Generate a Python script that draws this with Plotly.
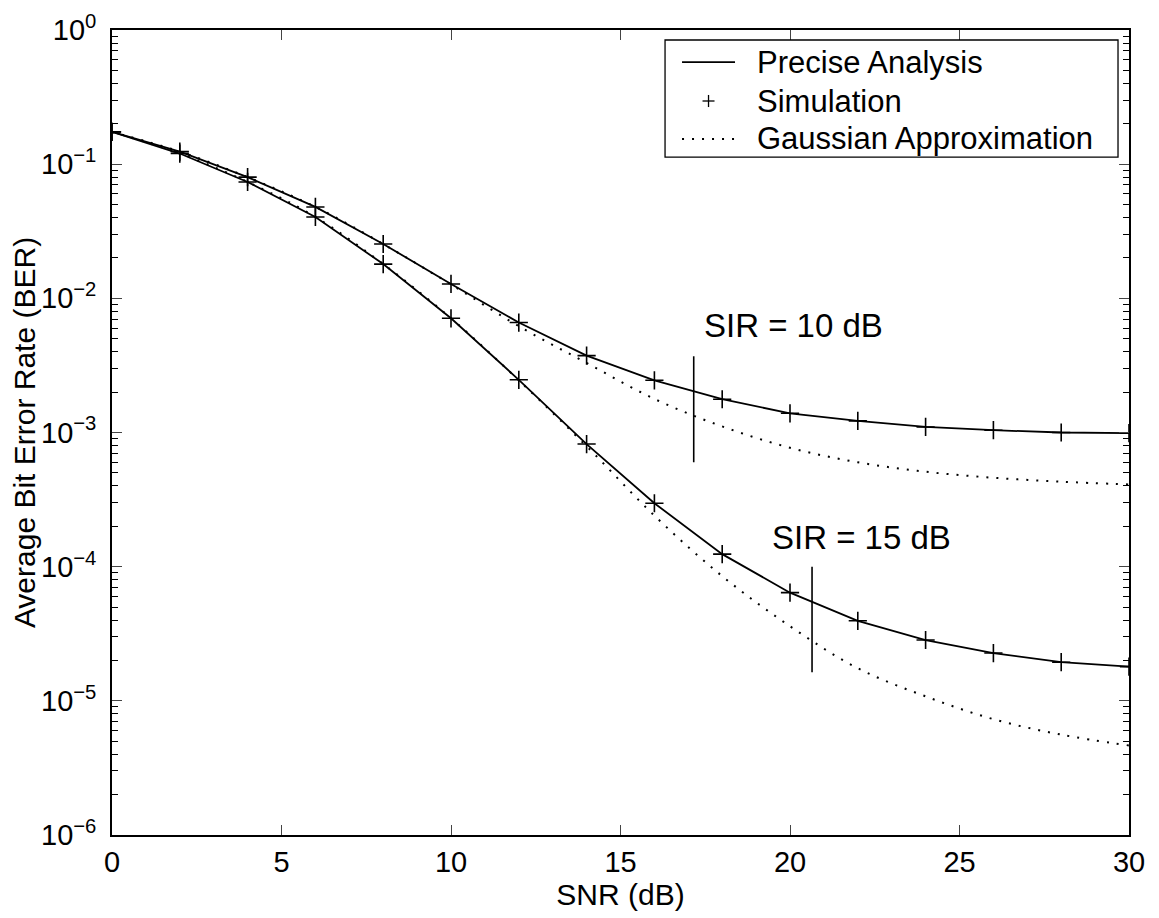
import math
import plotly.graph_objects as go

# SNR grid (dB)
snr = [0, 2, 4, 6, 8, 10, 12, 14, 16, 18, 20, 22, 24, 26, 28, 30]

# SIR = 10 dB
precise_10 = [0.174, 0.124, 0.080, 0.048, 0.0254, 0.0128, 0.0066, 0.00374,
              0.00245, 0.00177, 0.00139, 0.00122, 0.00110, 0.00104, 0.00100, 0.00099]
sim_10 = [0.174, 0.124, 0.080, 0.048, 0.0254, 0.0128, 0.0066, 0.00374,
          0.00245, 0.00177, 0.00139, 0.00122, 0.00110, 0.00104, 0.00100, 0.00099]
gauss_10 = [0.174, 0.124, 0.080, 0.048, 0.0254, 0.0127, 0.0062, 0.0033,
            0.00178, 0.00111, 0.00077, 0.00060, 0.00051, 0.00046, 0.00043, 0.00041]

# SIR = 15 dB
precise_15 = [0.174, 0.120, 0.0737, 0.0404, 0.018, 0.0071, 0.00247, 0.00082,
              0.000297, 0.000124, 6.4e-5, 3.95e-5, 2.84e-5, 2.27e-5, 1.94e-5, 1.80e-5]
sim_15 = [0.174, 0.120, 0.0737, 0.0404, 0.018, 0.0071, 0.00247, 0.00082,
          0.000297, 0.000124, 6.4e-5, 3.95e-5, 2.84e-5, 2.27e-5, 1.94e-5, 1.80e-5]
gauss_15 = [0.174, 0.120, 0.0737, 0.0404, 0.018, 0.0071, 0.00245, 0.00079,
            0.00024, 8.5e-5, 3.6e-5, 1.75e-5, 1.08e-5, 7.3e-6, 5.6e-6, 4.65e-6]

# SIR marker lines and labels
sir_line_x = [17.16, 20.65]
sir_line_top = [0.0037, 1.0e-4]
sir_line_bottom = [0.0006, 1.63e-5]
sir_labels = ["SIR = 10 dB", "SIR = 15 dB"]
sir_label_x = [20.1, 22.1]
sir_label_y = [0.0063, 1.65e-4]

legend_labels = ["Precise Analysis", "Simulation", "Gaussian Approximation"]

ytick_vals = [1, 1e-1, 1e-2, 1e-3, 1e-4, 1e-5, 1e-6]
ytick_text = ["10<sup>0</sup>", "10<sup>−1</sup>", "10<sup>−2</sup>", "10<sup>−3</sup>",
              "10<sup>−4</sup>", "10<sup>−5</sup>", "10<sup>−6</sup>"]
xtick_vals = [0, 5, 10, 15, 20, 25, 30]

FONT = "Liberation Sans, Arial, Helvetica, sans-serif"
DOTS = "2px,8px"

fig = go.Figure()

for p, s, g in [(precise_10, sim_10, gauss_10), (precise_15, sim_15, gauss_15)]:
    fig.add_trace(go.Scatter(
        x=snr, y=p, mode='lines', name='Precise Analysis',
        line=dict(color='black', width=1.8), showlegend=False
    ))
    fig.add_trace(go.Scatter(
        x=snr, y=s, mode='markers', name='Simulation',
        marker=dict(symbol='cross-thin', size=13, line=dict(color='black', width=1.6)),
        showlegend=False
    ))
    fig.add_trace(go.Scatter(
        x=snr, y=g, mode='lines', name='Gaussian Approximation',
        line=dict(color='black', width=2, dash=DOTS, shape='spline'),
        showlegend=False
    ))

for xv, yt, yb in zip(sir_line_x, sir_line_top, sir_line_bottom):
    fig.add_trace(go.Scatter(
        x=[xv, xv], y=[yt, yb], mode='lines',
        line=dict(color='black', width=1.6), showlegend=False, hoverinfo='skip'
    ))

# annotations on a log axis take log10 positions
for txt, xv, yv in zip(sir_labels, sir_label_x, sir_label_y):
    fig.add_annotation(x=xv, y=math.log10(yv), xref='x', yref='y', text=txt,
                       showarrow=False, font=dict(size=33, color='black', family=FONT))

# MATLAB-style legend box drawn in paper coordinates
box = dict(x0=0.5438, x1=0.9892, y0=0.8422, y1=0.9876)
row_y = [0.9602, 0.9118, 0.8646]
sample_x0, sample_x1, text_x = 0.5605, 0.6126, 0.6322
fig.add_shape(type='rect', xref='paper', yref='paper', **box,
              line=dict(color='black', width=1.3), fillcolor='white', layer='above')
fig.add_shape(type='line', xref='paper', yref='paper', x0=sample_x0, x1=sample_x1,
              y0=row_y[0], y1=row_y[0], line=dict(color='black', width=1.8), layer='above')
cx = (sample_x0 + sample_x1) / 2
fig.add_shape(type='line', xref='paper', yref='paper', x0=cx - 0.0059, x1=cx + 0.0059,
              y0=row_y[1], y1=row_y[1], line=dict(color='black', width=1.3), layer='above')
fig.add_shape(type='line', xref='paper', yref='paper', x0=cx, x1=cx,
              y0=row_y[1] - 0.0075, y1=row_y[1] + 0.0075, line=dict(color='black', width=1.3),
              layer='above')
fig.add_shape(type='line', xref='paper', yref='paper', x0=sample_x0, x1=sample_x1,
              y0=row_y[2], y1=row_y[2], line=dict(color='black', width=2, dash=DOTS),
              layer='above')
for lab, ry in zip(legend_labels, row_y):
    fig.add_annotation(x=text_x, y=ry, xref='paper', yref='paper', text=lab,
                       xanchor='left', yanchor='middle', showarrow=False,
                       font=dict(size=31, color='black', family=FONT))

fig.update_layout(
    width=1159, height=918,
    margin=dict(l=104, r=38, t=22, b=91),
    plot_bgcolor='white', paper_bgcolor='white',
    font=dict(family=FONT, color='black'),
    showlegend=False,
    xaxis=dict(
        range=[0, 30], tickvals=xtick_vals, ticks='inside', ticklen=10,
        showline=True, linecolor='black', linewidth=1.6, mirror='allticks',
        showgrid=False, zeroline=False, tickfont=dict(size=29), automargin=False,
        title=dict(text='SNR (dB)', font=dict(size=30), standoff=0)
    ),
    yaxis=dict(
        type='log', range=[-6, 0], tickvals=ytick_vals, ticktext=ytick_text,
        ticks='inside', ticklen=10, showline=True, linecolor='black', linewidth=1.6,
        mirror='allticks', showgrid=False, zeroline=False, tickfont=dict(size=29),
        ticklabelstandoff=8, automargin=False,
        minor=dict(ticks='inside', ticklen=6, dtick='D1', showgrid=False, tickcolor='black'),
        title=dict(text='Average Bit Error Rate (BER)', font=dict(size=30), standoff=4)
    ),
)

fig.write_html("out.html")
